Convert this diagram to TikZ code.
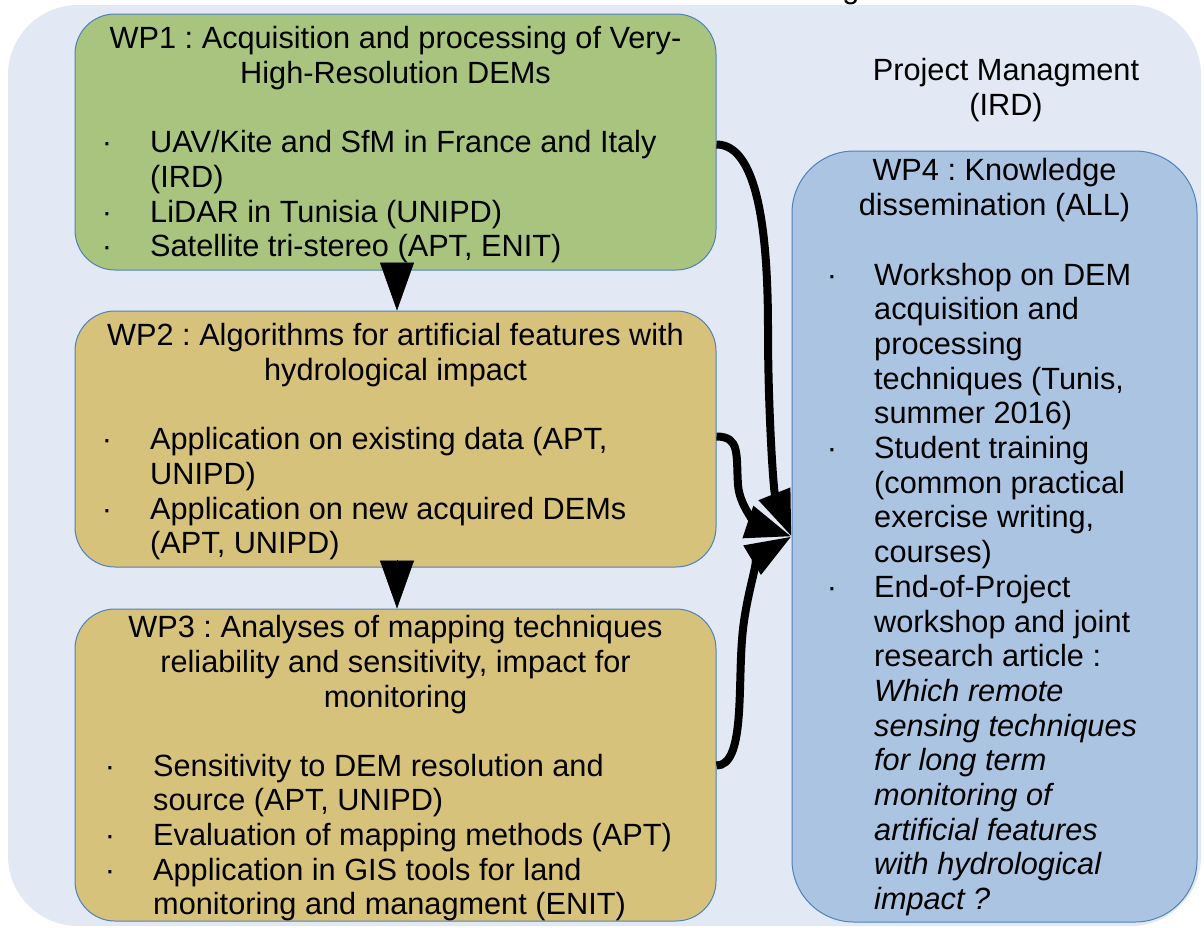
\documentclass[tikz,border=0pt]{standalone}
\usepackage{fontspec}
\setmainfont{Liberation Sans}
\usetikzlibrary{arrows.meta,calc}
\definecolor{bgc}{RGB}{226,233,244}
\definecolor{wpgreen}{RGB}{168,196,126}
\definecolor{wptan}{RGB}{214,194,122}
\definecolor{wpblue}{RGB}{170,196,226}
\definecolor{edgec}{RGB}{79,129,189}
\frenchspacing
\begin{document}
\begin{tikzpicture}[x=1pt,y=-1pt,
  wpbox/.style={draw=edgec,line width=1pt,inner sep=0pt,rounded corners=40pt},
  txt/.style={anchor=base west,inner sep=0pt,font=\fontsize{30.7}{34.7}\selectfont},
  ttl/.style={anchor=base,inner sep=0pt,font=\fontsize{30.7}{34.7}\selectfont},
  bul/.style={anchor=base,inner sep=0pt,font=\fontsize{30.7}{34.7}\selectfont},
  ital/.style={txt,font=\fontsize{30.7}{34.7}\selectfont\itshape},
  flow/.style={line width=8pt,-{Triangle[length=46pt,width=32pt]}},
  down/.style={line width=0.5pt,-{Triangle[length=48pt,width=34pt]}}]
\useasboundingbox (0,0) rectangle (1204,927);
% background panel
\fill[bgc,rounded corners=70pt] (8,5) rectangle (1201,926);
\node[ttl] (cut) at (851,-2) {g};
% boxes
\node[wpbox,fill=wpgreen,minimum width=641pt,minimum height=256pt] (wp1) at (395.5,142) {};
\node[wpbox,fill=wptan,minimum width=641pt,minimum height=256pt] (wp2) at (395.5,439) {};
\node[wpbox,fill=wptan,minimum width=641pt,minimum height=312pt] (wp3) at (395.5,765) {};
\node[wpbox,fill=wpblue,rounded corners=62pt,minimum width=405pt,minimum height=771pt] (wp4) at (994.5,536.5) {};
% WP1 text
\node[ttl] (t1a) at (395.5,48) {WP1 : Acquisition and processing of Very-};
\node[ttl] (t1b) at (395.5,83) {High-Resolution DEMs};
\node[bul] (d1a) at (107,152) {·};
\node[txt] (b1a) at (150,152) {UAV/Kite and SfM in France and Italy};
\node[txt] (b1b) at (150,187) {(IRD)};
\node[bul] (d1b) at (107,222) {·};
\node[txt] (b1c) at (150,222) {LiDAR in Tunisia (UNIPD)};
\node[bul] (d1c) at (107,256) {·};
\node[txt] (b1d) at (150,256) {Satellite tri-stereo (APT, ENIT)};
% WP2 text
\node[ttl] (t2a) at (395.5,345.7) {WP2 : Algorithms for artificial features with};
\node[ttl] (t2b) at (395.5,380.4) {hydrological impact};
\node[bul] (d2a) at (107,449.3) {·};
\node[txt] (b2a) at (150,449.3) {Application on existing data (APT,};
\node[txt] (b2b) at (150,484) {UNIPD)};
\node[bul] (d2b) at (107,519) {·};
\node[txt] (b2c) at (150,519) {Application on new acquired DEMs};
\node[txt] (b2d) at (150,553.7) {(APT, UNIPD)};
% WP3 text
\node[ttl] (t3a) at (395.5,637.7) {WP3 : Analyses of mapping techniques};
\node[ttl] (t3b) at (395.5,672.4) {reliability and sensitivity, impact for};
\node[ttl] (t3c) at (395.5,707) {monitoring};
\node[bul] (d3a) at (110,776) {·};
\node[txt] (b3a) at (153,776) {Sensitivity to DEM resolution and};
\node[txt] (b3b) at (153,810.7) {source (APT, UNIPD)};
\node[bul] (d3b) at (110,845.4) {·};
\node[txt] (b3c) at (153,845.4) {Evaluation of mapping methods (APT)};
\node[bul] (d3c) at (110,880) {·};
\node[txt] (b3d) at (153,880) {Application in GIS tools for land};
\node[txt] (b3e) at (153,914.7) {monitoring and managment (ENIT)};
% Project management
\node[ttl] (pm1) at (1006,80.7) {Project Managment};
\node[ttl] (pm2) at (1006,115.4) {(IRD)};
% WP4 text
\node[ttl] (t4a) at (994.5,180.7) {WP4 : Knowledge};
\node[ttl] (t4b) at (994.5,215.4) {dissemination (ALL)};
\node[bul] (d4a) at (832,285) {·};
\node[txt] (b4a) at (874,285) {Workshop on DEM};
\node[txt] (b4b) at (874,319.7) {acquisition and};
\node[txt] (b4c) at (874,354.4) {processing};
\node[txt] (b4d) at (874,389.1) {techniques (Tunis,};
\node[txt] (b4e) at (874,423.8) {summer 2016)};
\node[bul] (d4b) at (832,458.5) {·};
\node[txt] (b4f) at (874,458.5) {Student training};
\node[txt] (b4g) at (874,493.2) {(common practical};
\node[txt] (b4h) at (874,527.9) {exercise writing,};
\node[txt] (b4i) at (874,562.6) {courses)};
\node[bul] (d4c) at (832,597.3) {·};
\node[txt] (b4j) at (874,597.3) {End-of-Project};
\node[txt] (b4k) at (874,632) {workshop and joint};
\node[txt] (b4l) at (874,666.7) {research article :};
\node[ital] (b4m) at (874,701.4) {Which remote};
\node[ital] (b4n) at (874,736.1) {sensing techniques};
\node[ital] (b4o) at (874,770.8) {for long term};
\node[ital] (b4p) at (874,805.5) {monitoring of};
\node[ital] (b4q) at (874,840.2) {artificial features};
\node[ital] (b4r) at (874,874.9) {with hydrological};
\node[ital] (b4s) at (874,909.6) {impact ?};
% down arrows
\draw[down] ($(wp1.south)+(1.5,-8)$) -- ($(wp2.north)+(1.5,0)$);
\draw[down] ($(wp2.south)+(1.5,-8)$) -- ($(wp3.north)+(1.5,0)$);
% flow arrows to WP4
\draw[flow] ($(wp1.north east)+(0,131)$) .. controls +(45,0) and +(0,-80) .. (768,330) .. controls +(0,80) and +(-18,-45) .. (wp4.west);
\draw[flow] ($(wp2.north east)+(0,126)$) .. controls +(24,0) and +(-2,-30) .. (738,485) .. controls +(2,25) and +(-30,-10) .. (wp4.west);
\draw[flow] ($(wp3.north east)+(0,157)$) .. controls +(28,0) and +(-4,50) .. (742,640) .. controls +(3,-45) and +(-30,18) .. (wp4.west);
\end{tikzpicture}
\end{document}
